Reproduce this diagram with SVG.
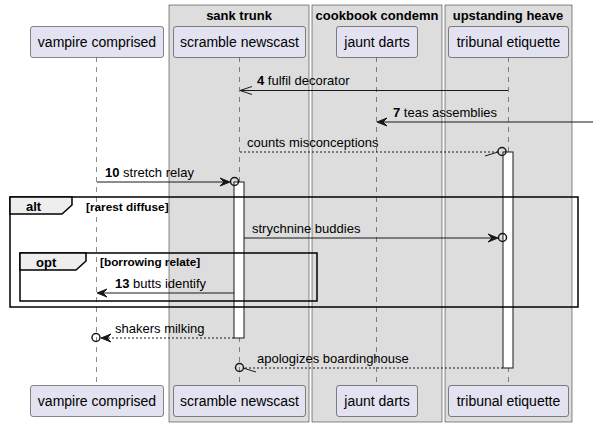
<svg xmlns="http://www.w3.org/2000/svg" width="593" height="427" viewBox="0 0 593 427">
<style>
text{font-family:"Liberation Sans",Arial,sans-serif;fill:#000}
.grp{fill:#DDDDDD;stroke:#181818;stroke-width:0.5}
.gt{font-size:13px;font-weight:bold;text-anchor:middle}
.part{fill:#E2E2F0;stroke:#181818;stroke-width:0.5}
.pt{font-size:14px;text-anchor:middle}
.life{stroke:#181818;stroke-width:0.5;stroke-dasharray:5,5;fill:none}
.act{fill:#FFFFFF;stroke:#181818;stroke-width:1}
.msg{stroke:#181818;stroke-width:1;fill:none}
.dash{stroke-dasharray:2,2}
.head{fill:#181818;stroke:#181818;stroke-width:1}
.circ{fill:none;stroke:#181818;stroke-width:1.5}
.ml{font-size:13px}
.b{font-weight:bold}
.frame{fill:none;stroke:#000;stroke-width:1.5}
.tab{fill:#EEEEEE;stroke:#000;stroke-width:1.5}
.ft{font-size:13px;font-weight:bold}
.fc{font-size:11.8px;font-weight:bold}
</style>
<g id="box-sank-trunk"><rect class="grp" x="169" y="5" width="140" height="417"/><text class="gt" x="239" y="20">sank trunk</text></g>
<g id="box-cookbook-condemn"><rect class="grp" x="312" y="5" width="130" height="417"/><text class="gt" x="377" y="20">cookbook condemn</text></g>
<g id="box-upstanding-heave"><rect class="grp" x="445" y="5" width="127" height="417"/><text class="gt" x="508" y="20">upstanding heave</text></g>
<g id="lifelines">
<line class="life" x1="96.5" y1="57" x2="96.5" y2="386"/>
<line class="life" x1="239.5" y1="57" x2="239.5" y2="386"/>
<line class="life" x1="376.5" y1="57" x2="376.5" y2="386"/>
<line class="life" x1="508.5" y1="57" x2="508.5" y2="386"/>
</g>
<g id="vampire-comprised">
<rect class="part" x="30.5" y="26.5" width="133" height="31" rx="2.5"/><text class="pt" x="97" y="47">vampire comprised</text>
<rect class="part" x="30.5" y="385.5" width="133" height="31" rx="2.5"/><text class="pt" x="97" y="406">vampire comprised</text>
</g>
<g id="scramble-newscast">
<rect class="part" x="173.5" y="26.5" width="132" height="31" rx="2.5"/><text class="pt" x="239.5" y="47">scramble newscast</text>
<rect class="part" x="173.5" y="385.5" width="132" height="31" rx="2.5"/><text class="pt" x="239.5" y="406">scramble newscast</text>
<rect class="act" x="234" y="182" width="10" height="156"/>
</g>
<g id="jaunt-darts">
<rect class="part" x="336.5" y="26.5" width="81" height="31" rx="2.5"/><text class="pt" x="377" y="47">jaunt darts</text>
<rect class="part" x="336.5" y="385.5" width="81" height="31" rx="2.5"/><text class="pt" x="377" y="406">jaunt darts</text>
</g>
<g id="tribunal-etiquette">
<rect class="part" x="448.5" y="26.5" width="120" height="31" rx="2.5"/><text class="pt" x="508.5" y="47">tribunal etiquette</text>
<rect class="part" x="448.5" y="385.5" width="120" height="31" rx="2.5"/><text class="pt" x="508.5" y="406">tribunal etiquette</text>
<rect class="act" x="503" y="152" width="10" height="216"/>
</g>
<g id="frames">
<rect class="frame" x="10" y="197" width="568" height="110"/>
<path class="tab" d="M10,197 H72 V205 L62,214 H10 Z"/>
<text class="ft" x="26" y="211">alt</text>
<text class="fc" x="86" y="211">[rarest diffuse]</text>
<rect class="frame" x="20" y="253" width="297" height="48"/>
<path class="tab" d="M20,253 H86 V261 L76,270 H20 Z"/>
<text class="ft" x="36" y="267">opt</text>
<text class="fc" x="100" y="266">[borrowing relate]</text>
</g>
<g id="connectors">
<line class="msg" x1="508" y1="90.5" x2="240" y2="90.5"/>
<path class="msg" d="M252,86.5 L240,90.5 L252,94.5"/>
<text class="ml" x="257" y="85"><tspan class="b">4</tspan> fulfil decorator</text>

<line class="msg" x1="593" y1="122" x2="378" y2="122"/>
<polygon class="head" points="377,122 387,118 383,122 387,126"/>
<text class="ml" x="393" y="117"><tspan class="b">7</tspan> teas assemblies</text>

<line class="msg dash" x1="240" y1="152" x2="498" y2="152"/>
<line class="msg" x1="485" y1="156" x2="498" y2="152"/>
<circle class="circ" cx="502" cy="151.5" r="4"/>
<text class="ml" x="247" y="147">counts misconceptions</text>

<line class="msg" x1="97" y1="182" x2="228" y2="182"/>
<polygon class="head" points="230,182 220,178 224,182 220,186"/>
<circle class="circ" cx="234.5" cy="181.5" r="4"/>
<text class="ml" x="105" y="177"><tspan class="b">10</tspan> stretch relay</text>

<line class="msg" x1="244" y1="238" x2="496" y2="238"/>
<polygon class="head" points="498,238 488,234 492,238 488,242"/>
<circle class="circ" cx="502.5" cy="237.5" r="4"/>
<text class="ml" x="252" y="233">strychnine buddies</text>

<line class="msg" x1="234" y1="293" x2="98" y2="293"/>
<polygon class="head" points="97,293 107,289 103,293 107,297"/>
<text class="ml" x="115" y="288"><tspan class="b">13</tspan> butts identify</text>

<line class="msg dash" x1="234" y1="338" x2="103" y2="338"/>
<polygon class="head" points="101,338 111,334 107,338 111,342"/>
<circle class="circ" cx="96" cy="337.5" r="4"/>
<text class="ml" x="115" y="333">shakers milking</text>

<line class="msg dash" x1="503" y1="368" x2="243" y2="368"/>
<line class="msg" x1="243" y1="368" x2="256" y2="372"/>
<circle class="circ" cx="239.5" cy="367.5" r="4"/>
<text class="ml" x="257" y="363">apologizes boardinghouse</text>
</g>
</svg>
